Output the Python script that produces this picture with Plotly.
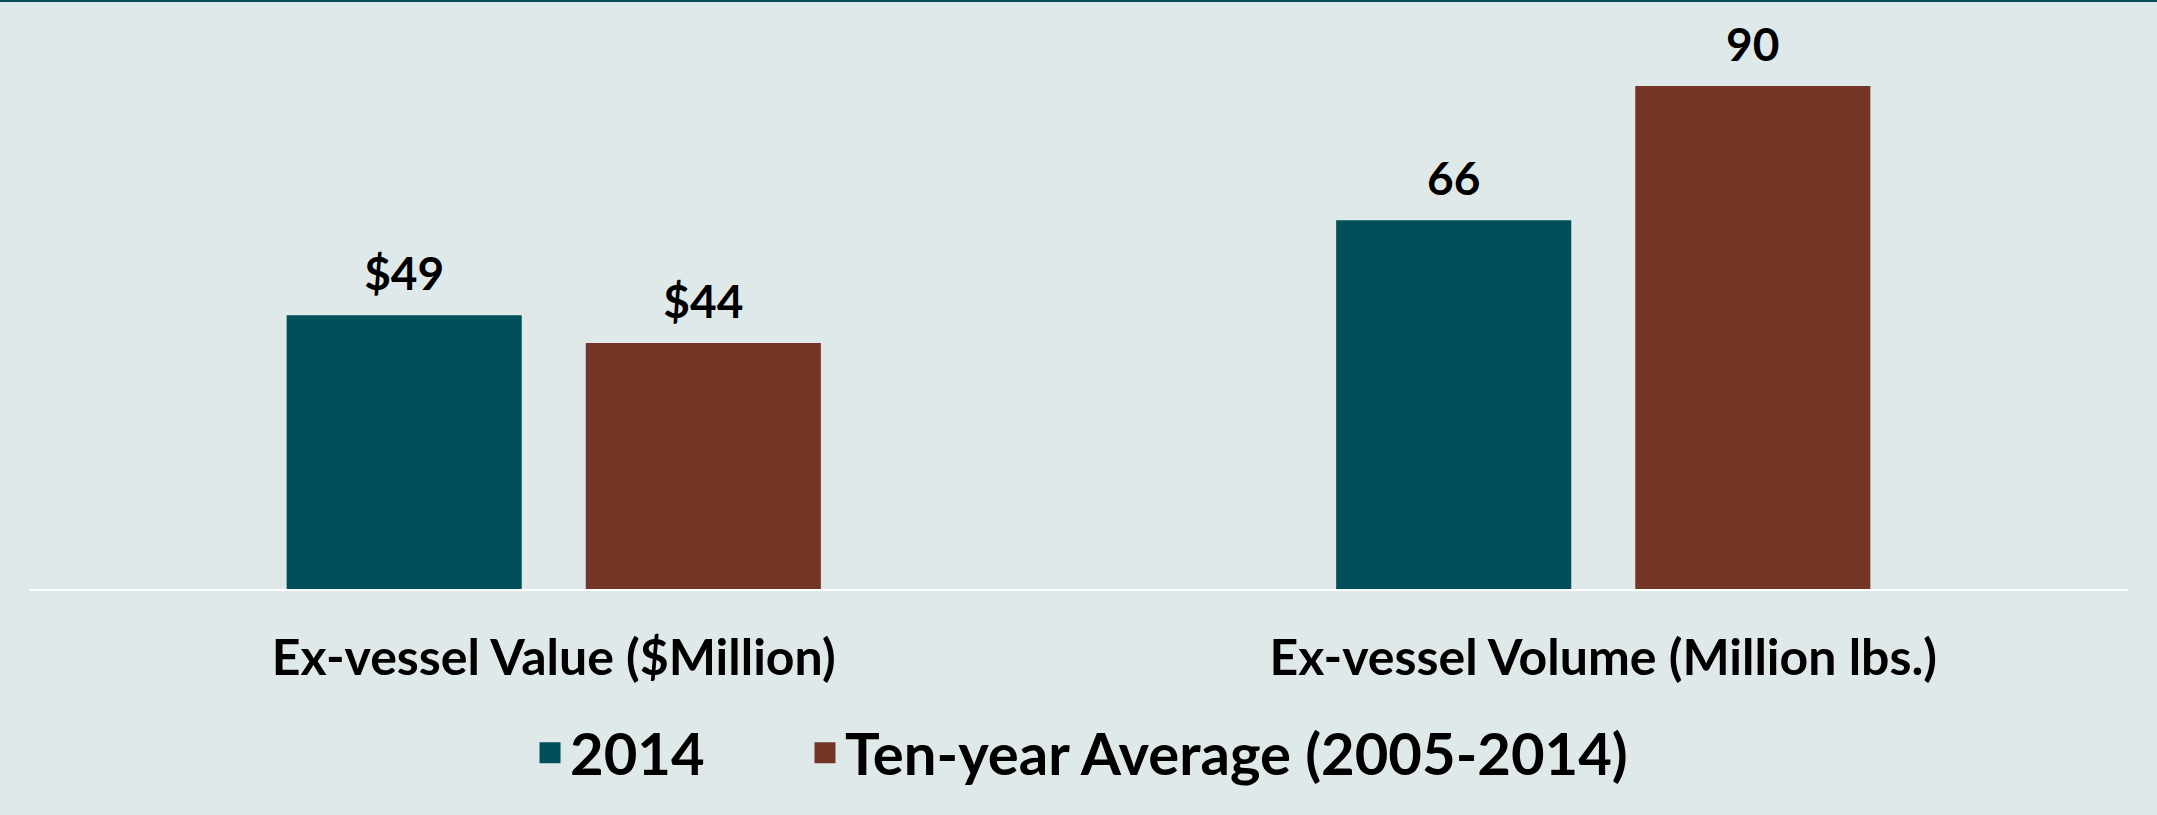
import plotly.graph_objects as go

categories = ["Ex-vessel Value ($Million)", "Ex-vessel Volume (Million lbs.)"]
series_names = ["2014", "Ten-year Average (2005-2014)"]
values_2014 = [49, 66]
values_avg = [44, 90]
label_prefix = ["$", ""]

colors = ["#014F5B", "#743426"]
groups = ["g2014", "gavg"]
legend_ids = ["legend", "legend2"]
legend_x = [0.2387, 0.3697]
bg = "#E0E9EA"
font_family = "Lato"

def labels(vals):
    return [p + str(v) for p, v in zip(label_prefix, vals)]

fig = go.Figure()
for name, vals, col, grp in zip(series_names, [values_2014, values_avg], colors, groups):
    fig.add_trace(go.Bar(
        x=categories, y=vals, name=name, offsetgroup=grp,
        marker=dict(color=col, line=dict(width=0)),
        hoverinfo="skip", showlegend=False,
    ))
for name, vals, col, grp in zip(series_names, [values_2014, values_avg], colors, groups):
    # value labels above bars, aligned with the grouped bars
    fig.add_trace(go.Scatter(
        x=categories, y=vals, offsetgroup=grp, mode="markers+text",
        marker=dict(size=20, opacity=0, color=col),
        text=labels(vals), textposition="top center", cliponaxis=False,
        textfont=dict(family=font_family, size=46, color="black", weight="bold"),
        hoverinfo="skip", showlegend=False,
    ))
for name, col, grp, lg in zip(series_names, colors, groups, legend_ids):
    # legend entries
    fig.add_trace(go.Scatter(
        x=[None], y=[None], name=name, offsetgroup=grp, mode="markers",
        marker=dict(symbol="square", size=16, color=col, line=dict(color=col, width=5)),
        hoverinfo="skip", showlegend=True, legend=lg,
    ))

legend_style = dict(
    orientation="h", xanchor="left", y=-0.2785, yanchor="middle",
    font=dict(family=font_family, size=58, color="black", weight="bold"),
    bgcolor="rgba(0,0,0,0)", itemwidth=30, itemsizing="trace",
)

fig.update_layout(
    width=2157, height=815,
    paper_bgcolor=bg, plot_bgcolor=bg,
    margin=dict(l=29, r=29, t=0, b=226),
    barmode="group", bargap=0.43, bargroupgap=0.214,
    scattermode="group", scattergap=0.43,
    font=dict(family=font_family, color="black"),
    showlegend=True,
    legend=dict(x=legend_x[0], **legend_style),
    legend2=dict(x=legend_x[1], **legend_style),
    xaxis=dict(
        showline=True, linecolor="white", linewidth=2, showgrid=False,
        zeroline=False, ticks="", ticklabelstandoff=24,
        tickfont=dict(family=font_family, size=50, color="black", weight="bold"),
    ),
    yaxis=dict(range=[0, 105.4], visible=False, showgrid=False, zeroline=False),
    shapes=[dict(type="line", xref="paper", yref="paper", x0=-0.02, x1=1.02,
                 y0=1, y1=1, line=dict(color="#014F5B", width=4))],
)

fig.write_html("out.html", config={"displayModeBar": False},
               post_script="document.body.style.margin='0px';")
